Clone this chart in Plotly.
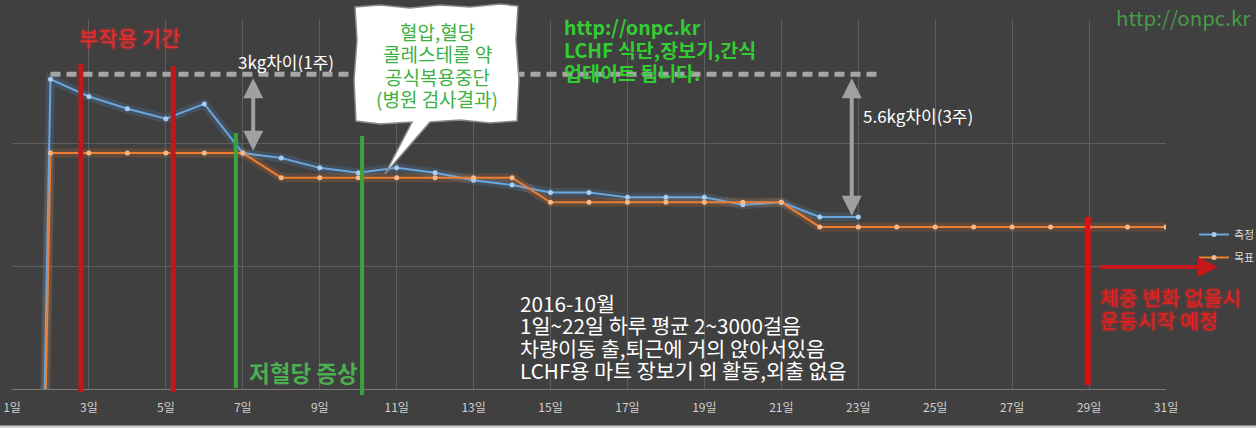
import plotly.graph_objects as go

# ---- data ----
days = list(range(1, 32))
tick_days = list(range(1, 32, 2))
tick_labels = [f"{d}일" for d in tick_days]
measured = [0, 83.0, 82.3, 81.8, 81.4, 82.0, 80.0, 79.8, 79.4, 79.2, 79.4, 79.2, 78.9, 78.7,
            78.4, 78.4, 78.2, 78.2, 78.2, 77.9, 78.0, 77.4, 77.4] + [None] * 8
target = [0] + [80] * 6 + [79] * 7 + [78] * 7 + [77] * 10
series_names = ["측정", "목표"]

BG = "#404040"
BLUE = "#5b9bd5"
ORANGE = "#ed7d31"
FONT = "Noto Sans CJK KR"

# plot area in pixels
L, R, T, B = 12, 1166, 20, 389
def pxx(x):
    return (x - L) / (R - L)
def pxy(y):
    return (B - y) / (B - T)

fig = go.Figure()

# glow layers
for vals, col in [(measured, BLUE), (target, ORANGE)]:
    fig.add_trace(go.Scatter(x=days, y=vals, mode="lines", line=dict(color=col, width=9),
                             opacity=0.18, showlegend=False, hoverinfo="skip"))
fig.add_trace(go.Scatter(x=days, y=measured, mode="lines+markers", name=series_names[0],
                         legendgroup="a", line=dict(color="#6aa7e0", width=2),
                         marker=dict(size=5, color="#a9cdf0")))
fig.add_trace(go.Scatter(x=days, y=target, mode="lines+markers", name=series_names[1],
                         legendgroup="b", line=dict(color=ORANGE, width=2),
                         marker=dict(size=5, color="#f6b98a")))

shapes = []
# dashed reference line
shapes.append(dict(type="line", xref="x", yref="y", x0=2, x1=23.55, y0=83.2, y1=83.2,
                   line=dict(color="#a6a6a6", width=5, dash="10px,6px")))
# red side-effect lines
for d, ytop in [(2.79, 64), (5.19, 66)]:
    shapes.append(dict(type="line", xref="x", yref="paper", x0=d, x1=d, y0=pxy(392), y1=pxy(ytop),
                       line=dict(color="#c0171a", width=5)))
# green lines
for d, ytop, ybot in [(6.82, 133, 388), (10.1, 136, 395)]:
    shapes.append(dict(type="line", xref="x", yref="paper", x0=d, x1=d, y0=pxy(ybot), y1=pxy(ytop),
                       line=dict(color="#3aa33a", width=4)))
# red line day 29 (glow + line)
shapes.append(dict(type="line", xref="x", yref="paper", x0=28.97, x1=28.97, y0=pxy(385), y1=pxy(217),
                   line=dict(color="rgba(255,0,0,0.25)", width=9)))
shapes.append(dict(type="line", xref="x", yref="paper", x0=28.97, x1=28.97, y0=pxy(385), y1=pxy(217),
                   line=dict(color="#e01010", width=5)))
# speech bubble
bx = [355, 380, 410, 440, 470, 500, 518, 516, 519, 517, 490, 460, 430, 385, 412, 380, 356, 354, 357, 355]
by = [7, 5, 8, 5, 7, 4, 6, 40, 80, 121, 123, 120, 122, 174, 122, 124, 121, 80, 40, 7]
path = "M " + " L ".join(f"{pxx(x):.5f},{pxy(y):.5f}" for x, y in zip(bx, by)) + " Z"
shapes.append(dict(type="path", xref="paper", yref="paper", path=path,
                   fillcolor="white", line=dict(color="#8a8a8a", width=1.5)))
# light bottom border strip of the image
shapes.append(dict(type="rect", xref="paper", yref="paper", x0=pxx(0), x1=pxx(1256),
                   y0=pxy(428.5), y1=pxy(425.5), fillcolor="#cfcfcf", line=dict(width=0)))

annotations = []
def txt(text, x, y, color, size, bold=False, xanchor="left", yanchor="middle", shadow=None):
    f = dict(family=FONT, size=size, color=color, weight=700 if bold else 400)
    if shadow:
        f["shadow"] = shadow
    annotations.append(dict(text=text, xref="paper", yref="paper", x=pxx(x), y=pxy(y),
                            xanchor=xanchor, yanchor=yanchor, showarrow=False, font=f))

def block(lines, x, y0, gap, color, size, bold=False, xanchor="left", shadow=None):
    for i, ln in enumerate(lines):
        txt(ln, x, y0 + i * gap, color, size, bold, xanchor, "middle", shadow)

txt("부작용 기간", 77, 37, "#e03030", 21, shadow="0px 0px 3px #ff2020")
txt("3kg차이(1주)", 236, 62, "#ffffff", 17)
txt("5.6kg차이(3주)", 861, 116, "#ffffff", 17)
block(["혈압,혈당", "콜레스테롤 약", "공식복용중단", "(병원 검사결과)"], 437, 32, 22, "#3cb043", 19,
      xanchor="center")
block(["http://onpc.kr", "LCHF 식단,장보기,간식", "업데이트 됩니다."], 562, 27, 22.5, "#33cc33", 19.5, bold=True)
txt("http://onpc.kr", 1114, 17, "#4a9a48", 20.5)
txt("저혈당 증상", 247, 372, "#4caf50", 22.5, bold=True)
block(["2016-10월", "1일~22일 하루 평균 2~3000걸음", "차량이동 출,퇴근에 거의 앉아서있음",
       "LCHF용 마트 장보기 외 활동,외출 없음"], 518, 303, 22.4, "#ffffff", 20.7)
block(["체중 변화 없을시", "운동시작 예정"], 1098, 297, 23, "#e02020", 20.5, shadow="0px 0px 3px #ff2020")

# gray double arrows
for d, v, ay in [(7.27, 80.1, -74), (22.83, 77.45, -139)]:
    annotations.append(dict(x=d, y=v, xref="x", yref="y", ax=0, ay=ay, showarrow=True,
                            arrowhead=2, startarrowhead=2, arrowside="end+start",
                            arrowsize=1, startarrowsize=1, arrowwidth=4, arrowcolor="#a0a0a0", text=""))
# red arrow right
annotations.append(dict(x=pxx(1218), y=pxy(267), xref="paper", yref="paper", ax=-119, ay=0,
                        showarrow=True, arrowhead=2, arrowsize=1, arrowwidth=4, arrowcolor="#c8161a", text=""))

fig.update_layout(
    width=1256, height=428,
    margin=dict(l=L, r=1256 - R, t=T, b=428 - B, autoexpand=False),
    paper_bgcolor=BG, plot_bgcolor=BG,
    font=dict(family=FONT, color="#d9d9d9"),
    shapes=shapes, annotations=annotations,
    legend=dict(x=pxx(1194), y=pxy(220), xanchor="left", yanchor="top", tracegroupgap=4,
                font=dict(size=11, color="#d9d9d9"), bgcolor="rgba(0,0,0,0)", itemwidth=30),
    xaxis=dict(range=[1, 31], tickvals=tick_days, ticktext=tick_labels, showgrid=True, automargin=False,
               gridcolor="#5e5e5e", gridwidth=1, zeroline=False, showline=True, linecolor="#7a7a7a",
               ticks="", tickfont=dict(size=12, color="#d0d0d0"), ticklabelstandoff=8),
    yaxis=dict(range=[70.41, 85.41], tick0=0.41, dtick=5, showticklabels=False, showgrid=True,
               automargin=False, gridcolor="#5e5e5e", zeroline=False, showline=False),
    showlegend=True,
)
fig.write_html("out.html", config={"displayModeBar": False},
               post_script="document.body.style.margin='0';document.body.style.background='#404040';")
